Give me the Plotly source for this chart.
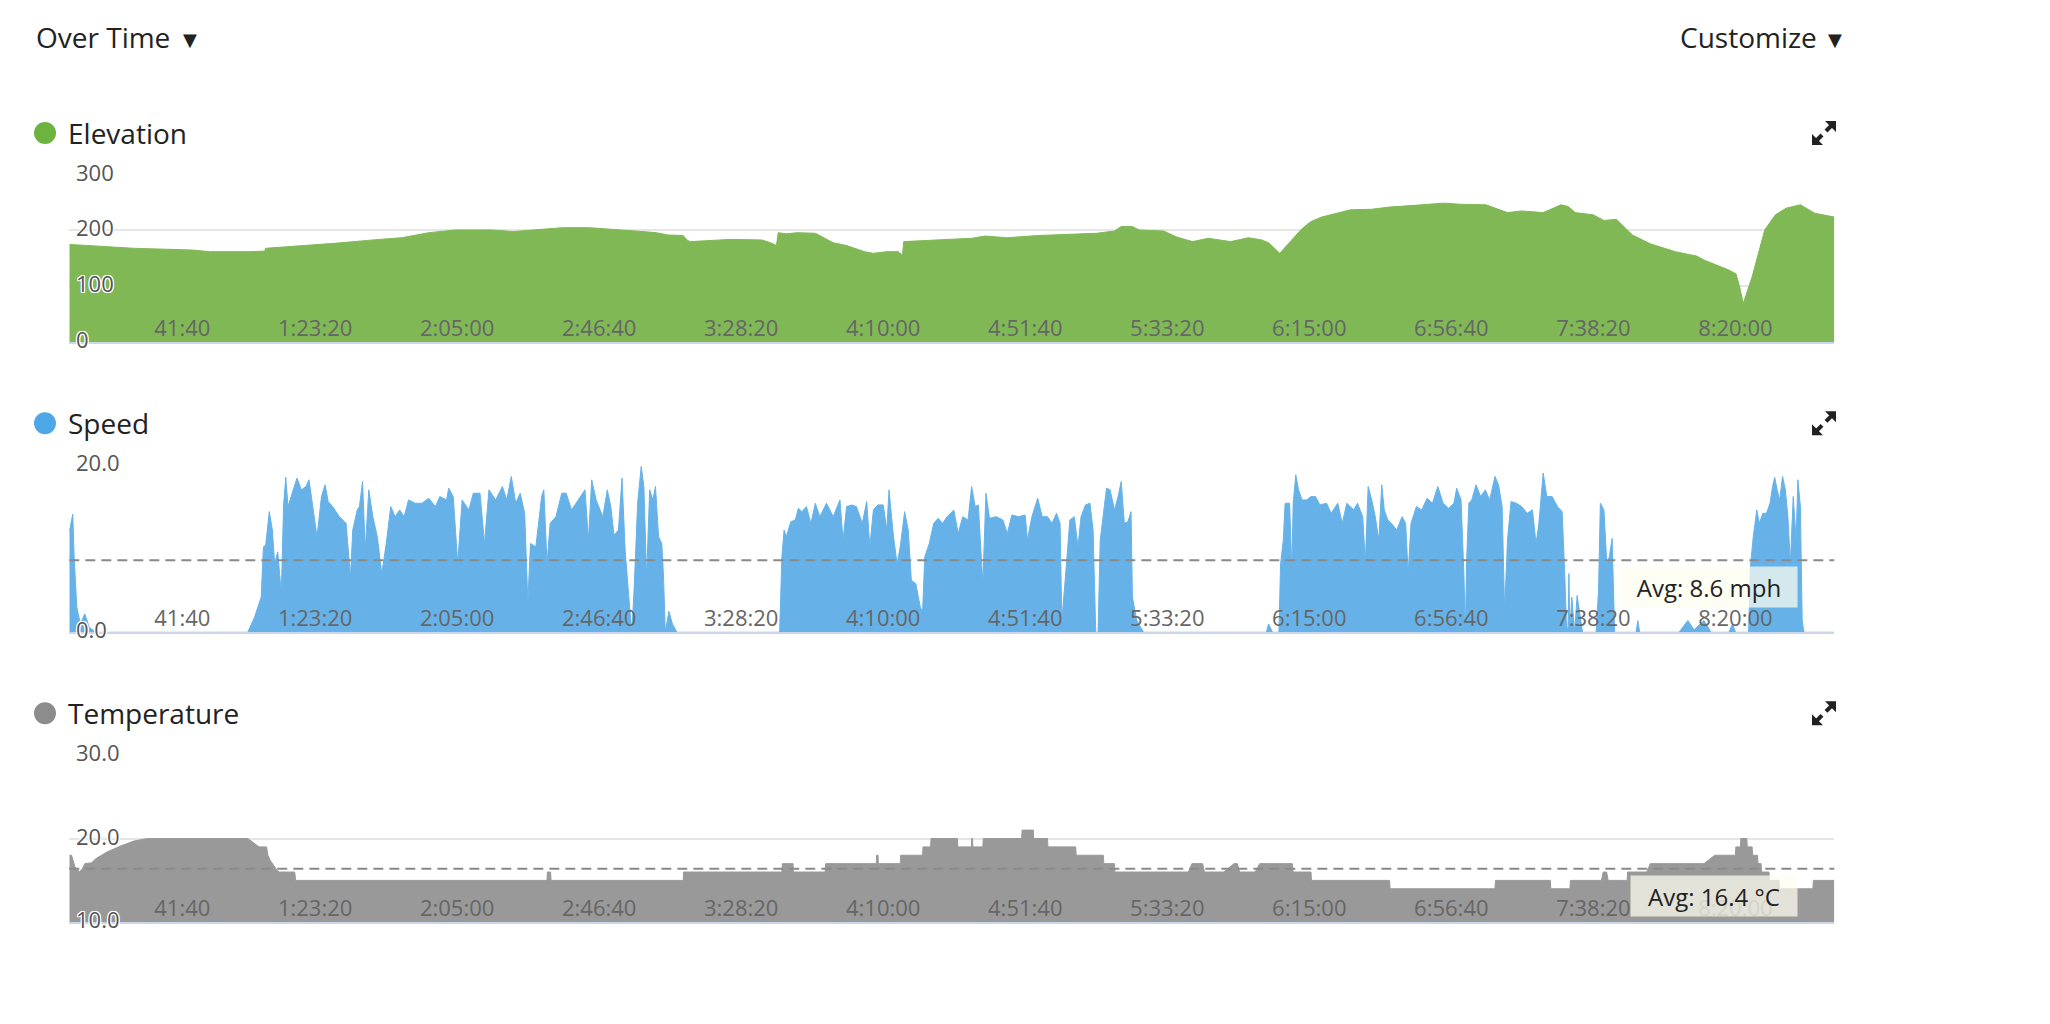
import plotly.graph_objects as go

# ---------------- data (time in seconds since start) ----------------
ELEV_TIME_S = [0, 1138, 2160, 2474, 3181, 3440, 3456, 4282, 4675, 5461, 5854, 6326, 6797, 7425,
               7818, 8054, 8683, 9155, 9784, 10099, 10335, 10530, 10805, 10884, 10931, 11403,
               11639, 12189, 12345, 12447, 12479, 12622, 12817, 13132, 13446, 13682, 13997,
               14154, 14390, 14587, 14665, 14689, 15254, 15883, 16118, 16511, 17062, 17691,
               18083, 18398, 18516, 18712, 18830, 19263, 19499, 19774, 20048, 20442, 20756,
               20992, 21110, 21307, 21543, 21668, 21779, 21857, 22045, 22297, 22548, 22925,
               23240, 23680, 24183, 24497, 24937, 25314, 25566, 25944, 26258, 26384, 26510,
               26824, 27013, 27233, 27515, 27830, 28270, 28647, 28773, 29213, 29339, 29402,
               29465, 29622, 29843, 30031, 30220, 30471, 30723, 31068]
ELEV_VALUES = [175, 168, 165, 162, 162, 163, 168, 174, 177, 184, 187, 196, 201, 201,
               198, 200, 205, 205, 201, 198, 196, 192, 191, 182, 180, 183,
               184, 183, 178, 173, 196, 194, 196, 195, 178, 173, 162,
               159, 162, 162, 156, 180, 183, 186, 190, 187, 191, 193,
               195, 199, 207, 207, 201, 199, 188, 180, 186, 180, 187,
               183, 178, 159, 186, 200, 210, 216, 224, 231, 237, 238,
               242, 245, 249, 247, 246, 232, 235, 232, 246, 243, 232,
               228, 218, 220, 192, 176, 162, 154, 147, 129, 122, 99,
               69, 117, 201, 228, 240, 246, 231, 224]

SPEED_TIME_S = [0, 61, 85, 132, 195, 273, 352, 470,
                3142, 3260, 3378, 3417, 3457, 3520, 3575, 3614, 3669, 3732, 3771, 3810, 3850,
                3928, 4007, 4086, 4164, 4219, 4282, 4361, 4439, 4502, 4557, 4636, 4754, 4872,
                4950, 4989, 5068, 5107, 5162, 5209, 5272, 5343, 5422, 5500, 5579, 5658, 5736,
                5815, 5893, 5972, 6090, 6208, 6326, 6444, 6522, 6640, 6679, 6758, 6837, 6915,
                7033, 7112, 7230, 7308, 7387, 7505, 7623, 7701, 7780, 7858, 7937, 8016, 8071,
                8118, 8212, 8314, 8353, 8409, 8464, 8566, 8668, 8747, 8841, 8919, 8998, 9077,
                9139, 9195, 9273, 9391, 9470, 9532, 9588, 9666, 9729, 9784, 9863, 9902, 9941,
                10004, 10067, 10114, 10161, 10216, 10271, 10318, 10373, 10429, 10460, 10491,
                10554, 10617, 10696,
                12503, 12543, 12582, 12621, 12700, 12779, 12833, 12896, 12975, 13054, 13132,
                13211, 13329, 13447, 13565, 13620, 13682, 13777, 13855, 13958, 14036, 14091,
                14154, 14232, 14327, 14390, 14429, 14508, 14571, 14626, 14704, 14767, 14822,
                14901, 14980, 15019, 15058, 15137, 15216, 15294, 15372, 15451, 15569, 15647,
                15726, 15820, 15883, 15946, 16001, 16080, 16135, 16197, 16316, 16433, 16512,
                16591, 16709, 16826, 16866, 16944, 17046, 17125, 17219, 17298, 17377, 17440,
                17471, 17534, 17612, 17691, 17754, 17809, 17888, 17966, 18021, 18068, 18108,
                18147, 18202, 18257, 18320, 18398, 18461, 18516, 18571, 18634, 18689, 18713,
                18791, 18909,
                21071, 21110, 21180, 21291, 21322, 21369, 21401, 21480, 21519, 21543, 21589,
                21637, 21700, 21778, 21857, 21935, 22014, 22132, 22211, 22328, 22407, 22486,
                22548, 22611, 22674, 22768, 22812, 22863, 22926, 22988, 23051, 23102, 23146,
                23209, 23271, 23366, 23460, 23523, 23567, 23617, 23712, 23806, 23900, 23995,
                24089, 24183, 24277, 24372, 24422, 24498, 24548, 24573, 24598, 24636, 24686,
                24762, 24843, 24925, 25001, 25095, 25158, 25221, 25265, 25315, 25378, 25472,
                25566, 25661, 25755, 25818, 25868, 25944, 26007, 26101, 26196, 26277, 26321,
                26353, 26380, 26397, 26412, 26447, 26497, 26541, 26636,
                26875, 26918, 26950, 27013, 27063, 27107, 27157, 27201, 27579, 27610, 27642,
                28334, 28490, 28600, 28773, 28899, 29213, 29276, 29330,
                29559, 29591, 29641, 29704, 29748, 29811, 29874, 29937, 29981, 30019, 30062,
                30107, 30157, 30207, 30251, 30295, 30345, 30396, 30427, 30471, 30503, 30534,
                31068]
SPEED_MPH = [12.0, 14.1, 9.0, 3.0, 1.0, 2.2, 0.6, 0,
             0, 1.8, 4.2, 10.2, 10.4, 14.4, 12.2, 8.2, 9.6, 4.6, 15.0, 18.5, 15.0,
             16.8, 18.4, 17.0, 17.4, 18.2, 15.4, 11.4, 16.2, 17.6, 15.6, 15.0, 13.8, 13.0,
             6.6, 12.2, 14.6, 15.0, 18.0, 9.8, 17.0, 13.8, 11.4, 7.0, 10.6, 15.0, 13.8,
             14.6, 13.8, 15.8, 15.4, 15.4, 16.0, 15.0, 16.2, 15.8, 17.2, 16.2, 8.2, 15.8,
             14.6, 16.6, 16.6, 10.6, 17.0, 15.8, 17.4, 15.8, 18.6, 15.4, 16.6, 14.2, 3.6,
             10.6, 10.2, 16.2, 17.0, 8.2, 13.0, 13.8, 16.6, 16.6, 14.6, 15.4, 16.2, 17.0,
             11.0, 18.2, 15.8, 13.8, 17.0, 15.0, 11.6, 12.2, 18.4, 9.8, 3.0, 0, 5.0,
             15.4, 19.8, 17.4, 6.6, 17.0, 15.8, 17.4, 11.4, 10.6, 6.6, 0,
             2.5, 1.0, 0,
             0, 9.0, 12.2, 11.4, 13.2, 13.4, 14.8, 14.4, 15.0, 13.0, 15.4,
             13.8, 15.4, 13.8, 15.8, 11.0, 15.0, 15.2, 15.0, 13.0, 15.6, 10.2,
             14.6, 15.2, 15.2, 12.2, 17.0, 11.4, 8.2, 10.2, 14.4, 12.2, 6.2,
             5.8, 3.0, 2.4, 9.0, 10.6, 13.0, 13.6, 13.0, 13.8, 14.6, 11.8,
             13.8, 13.4, 17.4, 15.0, 15.2, 5.8, 16.6, 13.6, 13.8, 13.4, 11.8,
             14.0, 13.8, 14.0, 11.0, 13.8, 16.0, 13.8, 13.8, 13.0, 14.2, 13.0,
             1.4, 6.6, 13.4, 13.8, 10.2, 13.8, 15.2, 15.4, 12.2, 0, 0,
             11.0, 13.8, 17.2, 17.0, 14.6, 16.2, 18.0, 13.0, 13.2, 14.4, 4.2,
             1.4, 0,
             0, 1.0, 0, 0, 8.2, 11.0, 15.4, 15.4, 7.4, 15.4, 18.8,
             17.0, 15.8, 15.8, 16.2, 16.2, 15.2, 15.4, 14.2, 15.4, 13.0, 15.4,
             15.0, 14.6, 15.4, 13.8, 8.2, 17.4, 15.8, 13.8, 11.0, 17.6, 14.6,
             13.4, 13.0, 12.2, 13.8, 13.0, 7.0, 13.0, 15.0, 14.6, 16.0, 15.4,
             17.4, 15.4, 14.8, 15.4, 17.2, 15.8, 7.0, 0, 9.0, 15.4, 15.8,
             17.6, 16.2, 17.0, 15.8, 18.6, 17.6, 15.0, 2.6, 11.0, 15.6, 15.4,
             15.0, 14.2, 14.6, 10.6, 13.0, 19.0, 16.2, 16.2, 15.0, 14.4, 7.4,
             1.0, 0, 7.0, 0, 4.2, 0, 4.4, 0,
             0, 5.0, 15.4, 14.6, 8.2, 9.0, 11.2, 0, 0, 1.4, 0,
             0, 1.4, 0.3, 1.4, 0, 0, 1.0, 0,
             0, 7.8, 11.4, 14.6, 13.0, 14.2, 14.2, 15.4, 17.4, 18.5, 17.0,
             15.8, 18.6, 17.0, 13.8, 8.2, 16.2, 11.0, 18.2, 15.0, 1.4, 0,
             0]

TEMP_TIME_S = [0, 40, 100, 179, 230, 273, 391, 470, 666, 902, 1138, 1374, 3142, 3260, 3339,
               3472, 3496, 3535, 3575, 3637, 3692, 3968, 3983, 8409, 8415, 8472, 8480, 10806,
               10814, 12543, 12551, 12739, 12747, 13305, 13313, 14205, 14210, 14236, 14241,
               14626, 14634, 15019, 15027, 15160, 15168, 15632, 15640, 15880, 15884, 15900,
               15904, 16080, 16088, 16764, 16772, 16968, 16976, 17219, 17227, 17715, 17723,
               18202, 18210, 18398, 18406, 19700, 19760, 19950, 19980, 20324, 20500, 20560,
               20600, 20874, 20953, 21527, 21543, 21857, 21865, 23240, 23248, 25095, 25103,
               26070, 26078, 26415, 26423, 26969, 27000, 27060, 27088, 27422, 27430, 27767,
               27830, 28773, 28962, 29327, 29335, 29415, 29423, 29528, 29536, 29622, 29630,
               29717, 29725, 29779, 29787, 29918, 29926, 30094, 30102, 30691, 30699, 31068]
TEMP_C = [18, 18, 16.6, 16.0, 16.4, 17.0, 17.1, 17.6, 18.4, 19.1, 19.7, 20.0, 20.0, 19.4, 19.0,
          19.0, 18.0, 17.4, 17.0, 16.4, 16.0, 16.0, 15, 15, 16, 16, 15, 15,
          16, 16, 17, 17, 16, 16, 17, 17, 18, 18, 17,
          17, 18, 18, 19, 19, 20, 20, 19, 19, 20, 20,
          19, 19, 20, 20, 21, 21, 20, 20, 19, 19, 18,
          18, 17, 17, 16, 16, 17, 17, 16, 16, 17, 17,
          16, 16, 17, 17, 16, 16, 15, 15, 14, 14, 15,
          15, 14, 14, 15, 15, 16, 16, 15, 15, 16, 16,
          17, 17, 18, 18, 19, 19, 20, 20, 19, 19, 18,
          18, 17, 17, 16, 16, 15, 15, 14, 14, 15, 15]

AVG_SPEED = 8.6
AVG_TEMP = 16.4

ELEV_TICKS = [0, 100, 200, 300]
ELEV_TICK_LABELS = ["0", "100", "200", "300"]
SPEED_TICKS = [0, 20]
SPEED_TICK_LABELS = ["0.0", "20.0"]
TEMP_TICKS = [10, 20, 30]
TEMP_TICK_LABELS = ["10.0", "20.0", "30.0"]

TICK_SECONDS = [2500, 5000, 7500, 10000, 12500, 15000, 17500, 20000, 22500, 25000, 27500, 30000]
TICK_LABELS = ["41:40", "1:23:20", "2:05:00", "2:46:40", "3:28:20", "4:10:00",
               "4:51:40", "5:33:20", "6:15:00", "6:56:40", "7:38:20", "8:20:00"]
X_MAX = 31068

# ---------------- layout helpers (screen pixel -> paper) ----------------
OFF = 8                      # default page margin around the figure
FIG_W, FIG_H = 2050 - 2 * OFF, 1024 - 2 * OFF


def px(x):
    return (x - OFF) / FIG_W


def py(y):
    return 1 - (y - OFF) / FIG_H


FONT = "Open Sans, Noto Sans, sans-serif"
PLOT_L, PLOT_R = 69.3, 1834.3

panels = [
    dict(title="Elevation", t=ELEV_TIME_S, v=ELEV_VALUES, fill="#80b856", dot="#6cb33f",
         top=174.7, bottom=342.0, title_y=133.0, yrange=[0, 300],
         tickvals=ELEV_TICKS, ticktext=ELEV_TICK_LABELS, avg=None),
    dict(title="Speed", t=SPEED_TIME_S, v=SPEED_MPH, fill="#66b2e8", dot="#4ea8e8",
         top=464.7, bottom=632.3, title_y=423.3, yrange=[0, 20],
         tickvals=SPEED_TICKS, ticktext=SPEED_TICK_LABELS,
         avg=(AVG_SPEED, f"Avg: {AVG_SPEED} mph", 168)),
    dict(title="Temperature", t=TEMP_TIME_S, v=TEMP_C, fill="#999999", dot="#8c8c8c",
         top=754.7, bottom=922.3, title_y=713.3, yrange=[10, 30],
         tickvals=TEMP_TICKS, ticktext=TEMP_TICK_LABELS,
         avg=(AVG_TEMP, f"Avg: {AVG_TEMP} °C", 158)),
]

fig = go.Figure()
shapes = []
annotations = []
layout_axes = {}

WHITE_HALO = ("-1px -1px 0 #fff, 1px -1px 0 #fff, -1px 1px 0 #fff, 1px 1px 0 #fff, "
              "0 -1px 0 #fff, 0 1px 0 #fff, -1px 0 0 #fff, 1px 0 0 #fff")

for i, p in enumerate(panels, start=1):
    xa = "x" if i == 1 else f"x{i}"
    ya = "y" if i == 1 else f"y{i}"
    xkey = "xaxis" if i == 1 else f"xaxis{i}"
    ykey = "yaxis" if i == 1 else f"yaxis{i}"

    fig.add_trace(go.Scatter(
        x=p["t"], y=p["v"], mode="lines",
        line=dict(color=p["fill"], width=1),
        fill="tozeroy", fillcolor=p["fill"],
        hoverinfo="skip", showlegend=False,
        xaxis=xa, yaxis=ya,
    ))

    layout_axes[xkey] = dict(
        domain=[px(PLOT_L), px(PLOT_R)], range=[0, X_MAX], anchor=ya,
        tickmode="array", tickvals=TICK_SECONDS, ticktext=TICK_LABELS,
        ticklabelposition="inside left", ticks="", showgrid=False, zeroline=False,
        showline=True, linecolor="#ccd6eb", linewidth=2,
        tickfont=dict(family=FONT, size=22, color="#666666"),
        fixedrange=True,
    )
    layout_axes[ykey] = dict(
        domain=[py(p["bottom"]), py(p["top"])], range=p["yrange"], anchor=xa,
        tickmode="array", tickvals=p["tickvals"], ticktext=p["ticktext"],
        showticklabels=False, ticks="", showgrid=True, gridcolor="#e6e6e6",
        gridwidth=2, zeroline=False, showline=False, fixedrange=True,
    )

    # y tick labels, drawn inside the plot on top of the fill (with white halo)
    for val, lab in zip(p["tickvals"], p["ticktext"]):
        annotations.append(dict(text=lab, xref=f"{xa} domain", yref=ya, x=0, y=val,
                                xanchor="left", yanchor="middle", xshift=5, yshift=3,
                                showarrow=False,
                                font=dict(family=FONT, size=22, color="#555555",
                                          shadow=WHITE_HALO)))

    # title dot + title
    cy = p["title_y"]
    shapes.append(dict(type="circle", xref="paper", yref="paper",
                       x0=px(34), x1=px(56), y0=py(cy + 11), y1=py(cy - 11),
                       fillcolor=p["dot"], line=dict(width=0)))
    annotations.append(dict(text=p["title"], xref="paper", yref="paper",
                            x=px(66), y=py(cy), xanchor="left", yanchor="middle",
                            showarrow=False, font=dict(family=FONT, size=28, color="#222222")))

    # expand icon (two outward arrows)
    cx = 1824
    for sx, sy in [(1, -1), (-1, 1)]:
        tipx, tipy = cx + 12 * sx, cy + 12 * sy
        path = (f"M {px(tipx)},{py(tipy)} L {px(tipx - 11 * sx)},{py(tipy)} "
                f"L {px(tipx)},{py(tipy - 11 * sy)} Z")
        shapes.append(dict(type="path", xref="paper", yref="paper", path=path,
                           fillcolor="#222222", line=dict(width=0)))
        shapes.append(dict(type="line", xref="paper", yref="paper",
                           x0=px(tipx - 5 * sx), y0=py(tipy - 5 * sy),
                           x1=px(cx + 2 * sx), y1=py(cy + 2 * sy),
                           line=dict(color="#222222", width=4)))

    if p["avg"] is not None:
        avg, label, bw = p["avg"]
        shapes.append(dict(type="line", xref=f"{xa} domain", yref=ya,
                           x0=0, x1=1, y0=avg, y1=avg, layer="above",
                           line=dict(color="#8a8a8a", width=2, dash="10px,6px")))
        annotations.append(dict(text=label, xref=f"{xa} domain", yref=ya,
                                x=(1797.5 - PLOT_L) / (PLOT_R - PLOT_L), y=avg,
                                xanchor="right", yanchor="top", yshift=-6,
                                showarrow=False, width=bw, height=32, borderpad=4,
                                align="center", bgcolor="rgba(253,253,240,0.72)",
                                font=dict(family=FONT, size=24, color="#222222")))

# header
annotations += [
    dict(text="Over Time", xref="paper", yref="paper", x=px(34), y=py(36.7),
         xanchor="left", yanchor="middle", showarrow=False,
         font=dict(family=FONT, size=28, color="#222222")),
    dict(text="▼", xref="paper", yref="paper", x=px(189.5), y=py(39.5),
         xanchor="center", yanchor="middle", showarrow=False,
         font=dict(family="DejaVu Sans", size=18, color="#222222")),
    dict(text="Customize", xref="paper", yref="paper", x=px(1819), y=py(36.7),
         xanchor="right", yanchor="middle", showarrow=False,
         font=dict(family=FONT, size=28, color="#222222")),
    dict(text="▼", xref="paper", yref="paper", x=px(1834.7), y=py(39.5),
         xanchor="center", yanchor="middle", showarrow=False,
         font=dict(family="DejaVu Sans", size=18, color="#222222")),
]

fig.update_layout(
    width=FIG_W, height=FIG_H, margin=dict(l=0, r=0, t=0, b=0, pad=0),
    paper_bgcolor="white", plot_bgcolor="white", showlegend=False,
    font=dict(family=FONT), shapes=shapes, annotations=annotations,
    **layout_axes,
)

fig.write_html("out.html", config={"displayModeBar": False})
